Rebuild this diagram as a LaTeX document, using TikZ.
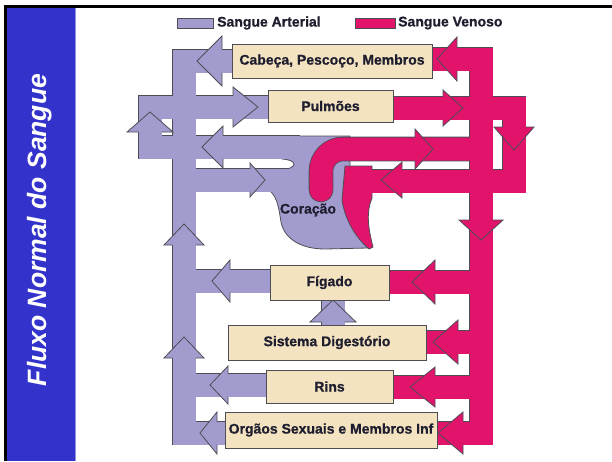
\documentclass[tikz,border=0pt]{standalone}
\usepackage{fontspec}
\setmainfont{Liberation Sans}[BoldFeatures={FakeBold=0.8}]
\definecolor{lav}{HTML}{A29CCE}
\definecolor{pnk}{HTML}{E2136A}
\definecolor{beige}{HTML}{F4E3C1}
\definecolor{olc}{HTML}{4D4D55}
\definecolor{ttl}{HTML}{3333CC}
\definecolor{txt}{HTML}{1E1E2E}
\tikzset{
  pipeout/.style={draw=olc, line width=24.6pt},
  lavfill/.style={draw=lav, line width=23pt},
  pnkfill/.style={draw=pnk, line width=23pt},
  outl/.style={draw=olc, line width=0.8pt, line join=miter},
  organ/.style={draw=olc, fill=beige, line width=0.8pt, inner sep=0pt, text=txt,
    font=\fontsize{14}{16}\selectfont\bfseries},
  swatch/.style={draw=olc, line width=0.6pt, minimum height=10pt, inner sep=0pt},
  legtext/.style={inner sep=0pt, text=txt, anchor=west, font=\fontsize{14}{16}\selectfont\bfseries}
}
\newcommand{\hd}[6]{%
  \begin{scope}[shift={(#2,#3)},rotate=#4]
    \fill[#1] (0pt,0pt) -- (-#5pt,#6pt) -- (-#5pt,-#6pt) -- cycle;
    \draw[outl] (-#5pt,11.5pt) -- (-#5pt,#6pt) -- (0pt,0pt) -- (-#5pt,-#6pt) -- (-#5pt,-11.5pt);
  \end{scope}}
\newcommand{\lavpipes}[1]{%
  \draw[#1] (232,61) -- (184,61) -- (184,433) -- (228,433);
  \draw[#1] (270,107) -- (150,107) -- (150,147) -- (300,147);
  \draw[#1] (190,180) -- (290,180);
  \draw[#1] (190,281) -- (272,281);
  \draw[#1] (190,385) -- (268,385);
  \draw[#1] (333,327) -- (333,298);
}
\newcommand{\pnkpipes}[1]{%
  \draw[#1] (428,59) -- (481,59) -- (481,433) -- (433,433);
  \draw[#1] (389,108) -- (514,108) -- (514,181) -- (357,181);
  \draw[#1,rounded corners=22pt,line cap=round] (321,190) -- (321,149) -- (472,149);
  \draw[#1] (385,282) -- (475,282);
  \draw[#1] (422,342) -- (475,342);
  \draw[#1] (389,387) -- (475,387);
}
\begin{document}
\begin{tikzpicture}[x=1pt,y=-1pt]
\fill[white] (0,0) rectangle (612,461);
\useasboundingbox (0,0) rectangle (612,461);
% frame and title band
\fill[black] (4,5) rectangle (612,8);
\fill[black] (4,5) rectangle (7.3,461);
\fill[ttl] (7.3,8) rectangle (75,461);
\fill[ttl!55!white] (75,8) rectangle (76,461);
\node[rotate=90, anchor=base, inner sep=0pt, text=white,
  font=\fontsize{26.5}{28}\selectfont\bfseries\itshape] (title) at (46,230) {Fluxo Normal do Sangue};

% arterial (lavender) circuit
\lavpipes{pipeout}
\path[fill=lav, draw=olc, line width=0.8pt] (282,136) -- (350,136) -- (350,200) -- (368,248) -- (325,249)
  .. controls (300,249) and (284,238) .. (281,222)
  .. controls (279,210) and (278,198) .. (270,191) -- (282,170)
  .. controls (298,168) and (298,160) .. (282,159) -- cycle;
\lavpipes{lavfill}
\hd{lav}{197}{61}{180}{25}{25}
\hd{lav}{258}{107}{0}{25}{20}
\hd{lav}{150}{112}{90}{20}{23}
\hd{lav}{202}{147}{180}{21}{21}
\hd{lav}{265}{180}{0}{15}{17}
\hd{lav}{184}{224}{90}{21}{20}
\hd{lav}{184}{337}{90}{21}{20}
\hd{lav}{212}{281}{180}{18}{21}
\hd{lav}{333}{300}{90}{22}{23}
\hd{lav}{210}{385}{180}{18}{19}
\hd{lav}{200}{433}{180}{17}{21}

% venous (pink) circuit
\pnkpipes{pipeout}
\path[fill=pnk, draw=olc, line width=0.8pt] (345,166) -- (372,166) -- (372,198)
  .. controls (366,212) and (368,228) .. (373,247) -- (369,249)
  .. controls (356,238) and (345,220) .. (342,200) -- cycle;
\pnkpipes{pnkfill}
\hd{pnk}{437}{59}{180}{20}{22}
\hd{pnk}{463}{108}{0}{20}{18}
\hd{pnk}{514}{150}{270}{23}{20}
\hd{pnk}{433}{149}{0}{18}{20}
\hd{pnk}{381}{180}{180}{21}{18}
\hd{pnk}{481}{240}{270}{20}{22}
\hd{pnk}{412}{282}{180}{23}{22}
\hd{pnk}{433}{342}{180}{25}{22}
\hd{pnk}{410}{387}{180}{25}{20}
\hd{pnk}{438}{433}{180}{25}{21}

\node[inner sep=0pt, text=txt, font=\fontsize{14}{16}\selectfont\bfseries] (cor) at (308,210) {Coração};

% organ boxes
\node[organ, minimum width=200pt, minimum height=34pt] (cab) at (332,61) {Cabeça, Pescoço, Membros};
\node[organ, minimum width=125pt, minimum height=32pt] (pul) at (330.5,106) {Pulmões};
\node[organ, minimum width=119pt, minimum height=35pt] (fig) at (329.5,282.5) {Fígado};
\node[organ, minimum width=198pt, minimum height=35pt] (dig) at (327,342.5) {Sistema Digestório};
\node[organ, minimum width=127pt, minimum height=33pt] (rin) at (329.5,386.5) {Rins};
\node[organ, minimum width=212pt, minimum height=36pt] (org) at (331,430) {Orgãos Sexuais e Membros Inf};

% legend
\node[swatch, fill=lav, minimum width=36pt] (sa) at (195,23) {};
\node[legtext] (la) at (217,23) {Sangue Arterial};
\node[swatch, fill=pnk, minimum width=40pt] (sv) at (375,23) {};
\node[legtext] (lv) at (398,23) {Sangue Venoso};
\end{tikzpicture}
\end{document}
